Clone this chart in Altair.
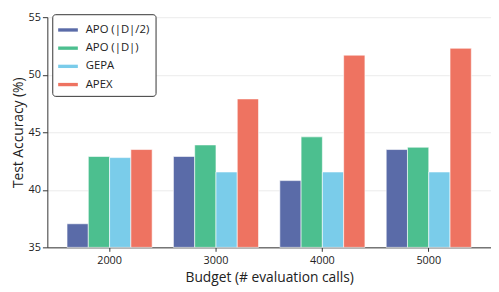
import altair as alt
import pandas as pd

budgets = ["2000", "3000", "4000", "5000"]
methods = ["APO (|D|/2)", "APO (|D|)", "GEPA", "APEX"]
apo_half = [37.05, 42.9, 40.8, 43.5]
apo_full = [42.9, 43.9, 44.6, 43.7]
gepa = [42.8, 41.55, 41.55, 41.55]
apex = [43.5, 47.9, 51.7, 52.3]
colors = ["#5A6BA8", "#4CBF8F", "#7ACCEA", "#EE7361"]

rows = []
for i, b in enumerate(budgets):
    for m, vals in zip(methods, [apo_half, apo_full, gepa, apex]):
        rows.append({"budget": b, "method": m, "acc": vals[i]})
df = pd.DataFrame(rows)

FONT = "Open Sans"

bars = alt.Chart(df).mark_bar(stroke="white", strokeWidth=1, strokeOpacity=0.6).encode(
    x=alt.X("budget:N", sort=budgets,
            scale=alt.Scale(paddingInner=0.2, paddingOuter=0.185),
            axis=alt.Axis(title="Budget (# evaluation calls)", labelAngle=0,
                          bandPosition=0.5, grid=False, domainColor="#333333",
                          tickColor="#333333", tickSize=4, labelPadding=3,
                          labelFontSize=11, titleFontSize=14, titlePadding=6)),
    xOffset=alt.XOffset("method:N", sort=methods,
                        scale=alt.Scale(paddingInner=0, paddingOuter=0)),
    y=alt.Y("acc:Q", scale=alt.Scale(domain=[35, 55], zero=False, nice=False),
            axis=alt.Axis(title="Test Accuracy (%)", values=[35, 40, 45, 50, 55],
                          gridColor="#EBEBEB", gridWidth=1, domainColor="#333333",
                          tickColor="#333333", tickSize=5, labelPadding=2,
                          labelFontSize=11, titleFontSize=14, titlePadding=3)),
    y2=alt.datum(35),
    color=alt.Color("method:N", sort=methods,
                    scale=alt.Scale(domain=methods, range=colors),
                    legend=alt.Legend(title=None, orient="none", legendX=5, legendY=-3,
                                      symbolType="M-1,-0.17H1V0.17H-1Z", symbolSize=400,
                                      symbolStrokeWidth=0, labelFontSize=11.5,
                                      strokeColor="#333333", padding=6, cornerRadius=3,
                                      rowPadding=2.5, labelOffset=8, fillColor="white")),
)

chart = bars.properties(
    width=451, height=234,
    autosize=alt.AutoSizeParams(type="none"),
    padding={"left": 40, "top": 7, "right": 0, "bottom": 40},
).configure(font=FONT).configure_axis(
    labelColor="#222222", titleColor="#222222", titleFontWeight="normal"
).configure_view(stroke=None).configure_legend(labelColor="#222222")

chart.save("out.html", embed_options={"renderer": "svg", "actions": False})
